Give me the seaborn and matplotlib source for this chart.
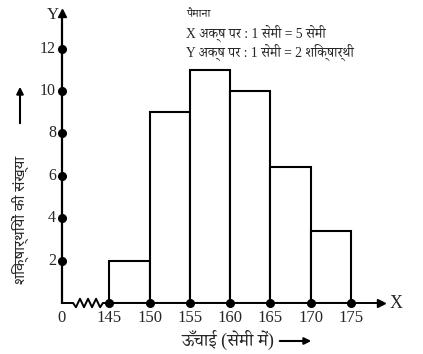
import matplotlib
matplotlib.use('Agg')
import matplotlib.pyplot as plt
import numpy as np
import pandas as pd
import seaborn as sns

# Class intervals (height in cm) and number of students
class_edges = [145, 150, 155, 160, 165, 170, 175]
frequency   = [2, 9, 11, 10, 6.4, 3.4]
y_ticks     = [2, 4, 6, 8, 10, 12]

scale_title = 'पैमाना'
scale_x     = 'X अक्ष पर : 1 सेमी = 5 सेमी'
scale_y     = 'Y अक्ष पर : 1 सेमी = 2 शिक्षार्थी'
x_title     = 'ऊँचाई (सेमी में)'
y_title     = 'शिक्षार्थियों की संख्या'

SERIF = ['Liberation Serif', 'Noto Serif Devanagari', 'DejaVu Sans']
SANS  = ['Noto Sans Devanagari', 'DejaVu Sans']

def histogram():
    sns.set_style('white')
    plt.rcParams['font.family'] = SERIF

    df = pd.DataFrame({'mid': [(a + b) / 2 for a, b in zip(class_edges[:-1], class_edges[1:])],
                       'count': frequency})

    fig = plt.figure(figsize=(4.23, 3.54), dpi=100)
    ax = fig.add_axes([61.7 / 423, 51 / 354, (387 - 61.7) / 423, (345 - 51) / 354])

    x0, x1 = 139.08, 179.5
    ax.set_xlim(x0, x1)
    ax.set_ylim(0, 13.87)

    sns.histplot(data=df, x='mid', weights='count', bins=class_edges,
                 color='white', edgecolor='black', linewidth=1.5, alpha=1, ax=ax)

    # axes: hide spines, draw by hand with arrowheads and break
    for s in ax.spines.values():
        s.set_visible(False)
    ax.set_xticks([]); ax.set_yticks([])
    ax.set_xlabel(''); ax.set_ylabel('')

    ax.plot([x0, x0], [0, 13.65], color='black', lw=1.6, clip_on=False)
    ax.plot(x0, 13.67, '^', color='black', ms=6, clip_on=False)
    zz_x = [x0, 140.5, 140.85, 141.35, 141.85, 142.35, 142.85, 143.35, 143.85, 144.2, x1 - 0.8]
    zz_y = [0, 0, -0.2, 0.2, -0.2, 0.2, -0.2, 0.2, -0.2, 0, 0]
    ax.plot(zz_x, zz_y, color='black', lw=1.4, clip_on=False)
    ax.plot(x1 - 0.8, 0, '>', color='black', ms=6, clip_on=False)

    # tick dots
    ax.plot(class_edges, [0] * len(class_edges), 'o', color='black', ms=5.5, clip_on=False)
    ax.plot([x0] * len(y_ticks), y_ticks, 'o', color='black', ms=5.5, clip_on=False)

    for v in class_edges:
        ax.text(v, -0.33, str(v), ha='center', va='top', fontsize=12)
    for v in y_ticks:
        ax.text(x0 - 0.7, v, str(v), ha='right', va='center', fontsize=11.5)
    ax.text(x0, -0.33, '0', ha='center', va='top', fontsize=12)

    ax.text(x1 + 0.3, 0, 'X', ha='left', va='center', fontsize=13)
    ax.text(x0 - 0.35, 13.57, 'Y', ha='right', va='center', fontsize=12)

    # scale box text
    fig.text(186 / 423, 1 - 14 / 354, scale_title, fontsize=8.5, va='center', ha='left', family=SERIF)
    fig.text(186 / 423, 1 - 33 / 354, scale_x, fontsize=9.8, va='center', ha='left', family=SERIF)
    fig.text(186 / 423, 1 - 52 / 354, scale_y, fontsize=9.8, va='center', ha='left', family=SERIF)

    # axis titles with arrows
    fig.text(228 / 423, 1 - 340 / 354, x_title, fontsize=13, ha='center', va='center', family=SERIF)
    ax.annotate('', xy=(314, 354 - 341), xytext=(277, 354 - 341), xycoords='figure pixels',
                textcoords='figure pixels', annotation_clip=False,
                arrowprops=dict(arrowstyle='-|>', lw=1.5, color='black', mutation_scale=10))
    fig.text(20 / 423, 1 - 220 / 354, y_title, fontsize=10.8, rotation=90, ha='center', va='center',
             family=SANS, weight='bold')
    ax.annotate('', xy=(20, 354 - 84), xytext=(20, 354 - 126), xycoords='figure pixels',
                textcoords='figure pixels', annotation_clip=False,
                arrowprops=dict(arrowstyle='-|>', lw=1.5, color='black', mutation_scale=10))

    fig.savefig('out.png', dpi=100)

if __name__ == "__main__":
    histogram()
